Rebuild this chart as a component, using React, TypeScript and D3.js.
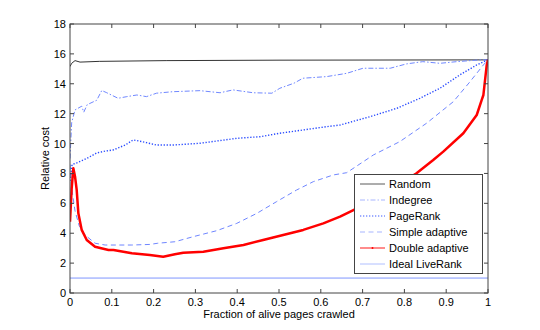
import React from 'react';
import * as d3 from 'd3';

type Pt = [number, number];

const xTicks = [0, 0.1, 0.2, 0.3, 0.4, 0.5, 0.6, 0.7, 0.8, 0.9, 1];
const yTicks = [0, 2, 4, 6, 8, 10, 12, 14, 16, 18];

const randomPts: Pt[] = [
  [0, 15.15], [0.004, 15.37], [0.012, 15.55], [0.024, 15.45], [0.07, 15.5],
  [0.23, 15.55], [0.5, 15.58], [1, 15.6],
];

const indegreePts: Pt[] = [
  [0, 9.0], [0.004, 11.4], [0.012, 12.25], [0.028, 12.5], [0.033, 12.1], [0.041, 12.6],
  [0.064, 12.9], [0.076, 13.55], [0.088, 13.4], [0.115, 13.03], [0.136, 13.14], [0.16, 13.25],
  [0.183, 13.14], [0.207, 13.37], [0.246, 13.47], [0.311, 13.54], [0.359, 13.4], [0.39, 13.59],
  [0.438, 13.4], [0.483, 13.37], [0.502, 13.7], [0.536, 14.04], [0.557, 14.37], [0.614, 14.48],
  [0.662, 14.7], [0.701, 15.04], [0.766, 15.04], [0.805, 15.33], [0.844, 15.48], [0.885, 15.37],
  [0.925, 15.48], [0.981, 15.6], [1, 15.6],
];

const pagerankPts: Pt[] = [
  [0, 7.5], [0.005, 8.6], [0.016, 8.7], [0.04, 9.0], [0.064, 9.37], [0.085, 9.5], [0.103, 9.57],
  [0.132, 9.9], [0.151, 10.24], [0.16, 10.2], [0.183, 10.06], [0.207, 9.9], [0.246, 9.9],
  [0.311, 10.02], [0.399, 10.35], [0.455, 10.46], [0.502, 10.69], [0.558, 10.91], [0.614, 11.13],
  [0.646, 11.24], [0.718, 11.8], [0.782, 12.36], [0.837, 13.03], [0.885, 13.7], [0.933, 14.6],
  [0.973, 15.26], [1, 15.6],
];

const simplePts: Pt[] = [
  [0, 8.6], [0.004, 7.0], [0.012, 5.5], [0.022, 4.5], [0.036, 3.88], [0.06, 3.33], [0.084, 3.21],
  [0.148, 3.21], [0.191, 3.25], [0.21, 3.33], [0.251, 3.43], [0.295, 3.77], [0.351, 4.17],
  [0.399, 4.66], [0.447, 5.33], [0.494, 6.11], [0.542, 6.89], [0.582, 7.45], [0.63, 7.9],
  [0.662, 8.05], [0.726, 9.24], [0.789, 10.13], [0.853, 11.36], [0.917, 12.8], [0.957, 14.14],
  [0.989, 15.26], [1, 15.6],
];

const doublePts: Pt[] = [
  [0, 4.77], [0.004, 7.0], [0.008, 8.35], [0.012, 7.8], [0.016, 6.9], [0.02, 5.33], [0.028, 4.22],
  [0.04, 3.55], [0.06, 3.1], [0.092, 2.88], [0.104, 2.88], [0.148, 2.66], [0.191, 2.54],
  [0.223, 2.43], [0.251, 2.59], [0.271, 2.7], [0.319, 2.76], [0.367, 2.99], [0.415, 3.21],
  [0.462, 3.55], [0.51, 3.88], [0.558, 4.22], [0.606, 4.66], [0.646, 5.11], [0.678, 5.55],
  [0.72, 6.15], [0.77, 6.95], [0.829, 8.01], [0.869, 8.9], [0.893, 9.46], [0.941, 10.69],
  [0.973, 11.91], [0.985, 12.92], [0.989, 13.25], [0.997, 15.26], [1, 15.6],
];

const idealPts: Pt[] = [[0, 1], [1, 1]];

const seriesNames = ['Random', 'Indegree', 'PageRank', 'Simple adaptive', 'Double adaptive', 'Ideal LiveRank'];

const styles = [
  { color: '#333333', width: 1, dash: '' },
  { color: '#7088ff', width: 1, dash: '5 2 1.5 2' },
  { color: '#2a4cff', width: 1.4, dash: '1.3 1.7' },
  { color: '#6f86ff', width: 1, dash: '5 3.5' },
  { color: '#ff0000', width: 2.5, dash: '' },
  { color: '#7f95ff', width: 1, dash: '' },
];

const allSeries = [randomPts, indegreePts, pagerankPts, simplePts, doublePts, idealPts];

export default function App() {
  const left = 70, right = 488, top = 24, bottom = 293;
  const x = d3.scaleLinear().domain([0, 1]).range([left, right]);
  const y = d3.scaleLinear().domain([0, 18]).range([bottom, top]);
  const line = d3.line<Pt>().x(d => x(d[0])).y(d => y(d[1]));
  const font = { fontFamily: '"Liberation Sans", Arial, sans-serif', fontSize: 11 };
  const axisColor = '#444';
  const legendY = (i: number) => 184 + i * 16;

  return (
    <svg width={540} height={330} style={{ position: 'absolute', left: 0, top: 0, background: '#fff' }}>
      <defs>
        <clipPath id="plot">
          <rect x={left} y={top} width={right - left} height={bottom - top} />
        </clipPath>
      </defs>
      <rect x={left} y={top} width={right - left} height={bottom - top} fill="#fff" />
      <g clipPath="url(#plot)">
        {allSeries.map((pts, i) => (
          <path key={i} d={line(pts) || ''} fill="none" stroke={styles[i].color}
            strokeWidth={styles[i].width} strokeDasharray={styles[i].dash || undefined}
            strokeLinejoin="round" />
        ))}
      </g>
      {/* ticks inside on all four sides */}
      {xTicks.map(t => (
        <g key={'x' + t}>
          <line x1={x(t)} x2={x(t)} y1={bottom} y2={bottom - 4} stroke={axisColor} />
          <line x1={x(t)} x2={x(t)} y1={top} y2={top + 4} stroke={axisColor} />
          <text x={x(t)} y={306} textAnchor="middle" {...font} fill="#000">{t}</text>
        </g>
      ))}
      {yTicks.map(t => (
        <g key={'y' + t}>
          <line x1={left} x2={left + 4} y1={y(t)} y2={y(t)} stroke={axisColor} />
          <line x1={right} x2={right - 4} y1={y(t)} y2={y(t)} stroke={axisColor} />
          <text x={66} y={y(t)} dy="0.36em" textAnchor="end" {...font} fill="#000">{t}</text>
        </g>
      ))}
      <rect x={left} y={top} width={right - left} height={bottom - top} fill="none" stroke={axisColor} />
      <text x={(left + right) / 2} y={318} textAnchor="middle" {...font} fill="#000">
        Fraction of alive pages crawled
      </text>
      <text transform={`translate(49, ${(top + bottom) / 2}) rotate(-90)`} textAnchor="middle" {...font} fill="#000">
        Relative cost
      </text>
      {/* legend */}
      <rect x={354.5} y={174.5} width={128} height={99} fill="#fff" stroke={axisColor} />
      {seriesNames.map((name, i) => (
        <g key={name}>
          <line x1={360} x2={385} y1={legendY(i)} y2={legendY(i)} stroke={styles[i].color}
            strokeWidth={Math.min(styles[i].width, 1.5)} strokeDasharray={styles[i].dash || undefined}
            opacity={i === 0 ? 0.8 : 0.6} />
          {i === 4 && <circle cx={372.5} cy={legendY(i)} r={1} fill="#ff0000" />}
          <text x={389} y={legendY(i)} dy="0.36em" {...font} fill="#000">{name}</text>
        </g>
      ))}
    </svg>
  );
}
